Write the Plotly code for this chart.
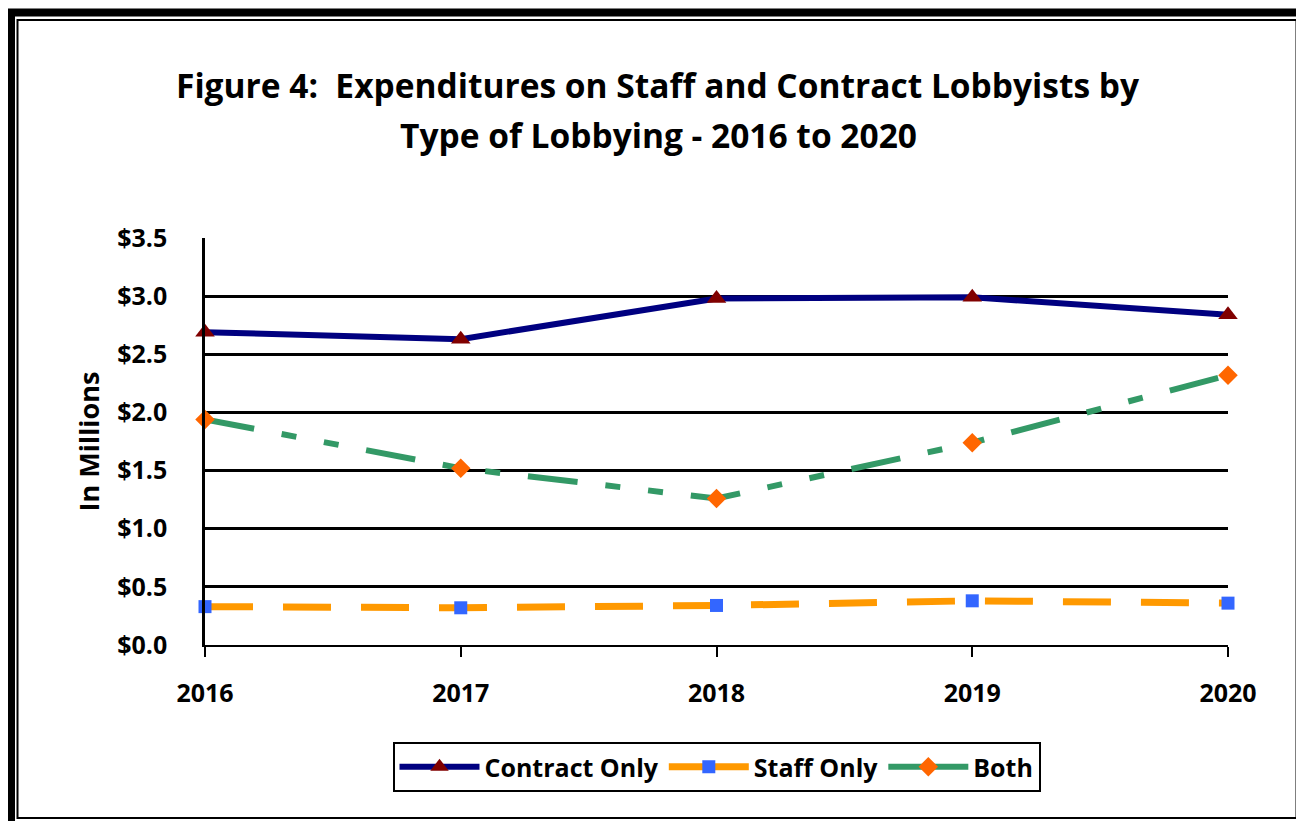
import plotly.graph_objects as go

years = [2016, 2017, 2018, 2019, 2020]
contract_only = [2.69, 2.63, 2.98, 2.99, 2.84]
staff_only = [0.33, 0.32, 0.34, 0.38, 0.36]
both = [1.94, 1.52, 1.26, 1.74, 2.32]
y_ticks = [0.0, 0.5, 1.0, 1.5, 2.0, 2.5, 3.0, 3.5]
title_lines = ["Figure 4:  Expenditures on Staff and Contract Lobbyists by",
               "Type of Lobbying - 2016 to 2020"]

OFF = 8  # page body margin
W, H = 1304 - OFF, 821 - OFF
L, R, T, B = 205 - OFF, 1228 - OFF, 238 - OFF, 645 - OFF
FONT = "Open Sans"

def px(x):
    return (x - OFF - L) / (R - L)

def py(y):
    return (B - (y - OFF)) / (B - T)

series = [
    ("Contract Only", contract_only, dict(color="#000080", width=6),
     dict(symbol="triangle-up", size=17, color="#800000")),
    ("Staff Only", staff_only, dict(color="#FF9900", width=7, dash="48px,30px"),
     dict(symbol="square", size=13, color="#3366FF")),
    ("Both", both, dict(color="#339966", width=6, dash="50px,28px,15px,28px,15px,28px"),
     dict(symbol="diamond", size=15, color="#FF6600")),
]

fig = go.Figure()
for name, vals, line, marker in series:
    fig.add_trace(go.Scatter(
        x=years, y=vals, name=name, mode="lines+markers",
        line=line, marker=marker, cliponaxis=False, showlegend=False))
# legend entries with solid sample lines (no data drawn)
for name, vals, line, marker in series:
    solid = dict(line)
    solid.pop("dash", None)
    fig.add_trace(go.Scatter(
        x=[None], y=[None], name=name, mode="lines+markers",
        line=solid, marker=marker, showlegend=True))

shapes = [
    dict(type="rect", xref="paper", yref="paper",
         x0=px(11), x1=px(1303), y0=py(12.5), y1=py(826),
         line=dict(color="black", width=8), layer="below"),
    dict(type="rect", xref="paper", yref="paper",
         x0=px(17.5), x1=px(1296.5), y0=py(20), y1=py(818),
         line=dict(color="black", width=2), layer="below"),
]

annotations = [
    dict(text="<b>%s</b>" % title_lines[0], xref="paper", yref="paper",
         x=px(658), y=py(85), xanchor="center", yanchor="middle", showarrow=False,
         font=dict(size=33.5, family=FONT, color="black")),
    dict(text="<b>%s</b>" % title_lines[1], xref="paper", yref="paper",
         x=px(658), y=py(135), xanchor="center", yanchor="middle", showarrow=False,
         font=dict(size=33.5, family=FONT, color="black")),
]

fig.update_layout(
    width=W, height=H,
    margin=dict(l=L, r=W - R, t=T, b=H - B, pad=0),
    paper_bgcolor="white", plot_bgcolor="white",
    font=dict(family=FONT, color="black"),
    xaxis=dict(
        range=[2016, 2020], tickvals=years, ticktext=[str(y) for y in years],
        showgrid=False, zeroline=False,
        showline=True, linecolor="black", linewidth=2,
        ticks="outside", ticklen=10, tickwidth=2, tickcolor="black",
        tickfont=dict(size=25, family=FONT, color="black", weight="bold"),
        ticklabelstandoff=15),
    yaxis=dict(
        range=[0, 3.5], tickvals=y_ticks,
        ticktext=["$%.1f" % v for v in y_ticks],
        showgrid=True, gridcolor="black", gridwidth=2.5,
        zeroline=False, showline=True, linecolor="black", linewidth=2.5,
        ticks="", tickfont=dict(size=25, family=FONT, color="black", weight="bold"),
        ticklabelstandoff=30,
        title=dict(text="<b>In Millions</b>", font=dict(size=27, family=FONT, color="black"), standoff=10)),
    legend=dict(
        orientation="h", x=0.5, xanchor="center", y=py(742), yanchor="top",
        bordercolor="black", borderwidth=2, bgcolor="white",
        font=dict(size=25, family=FONT, color="black", weight="bold"),
        itemwidth=80, tracegroupgap=0),
    annotations=annotations,
    shapes=shapes,
    showlegend=True,
)

fig.write_html("out.html")
